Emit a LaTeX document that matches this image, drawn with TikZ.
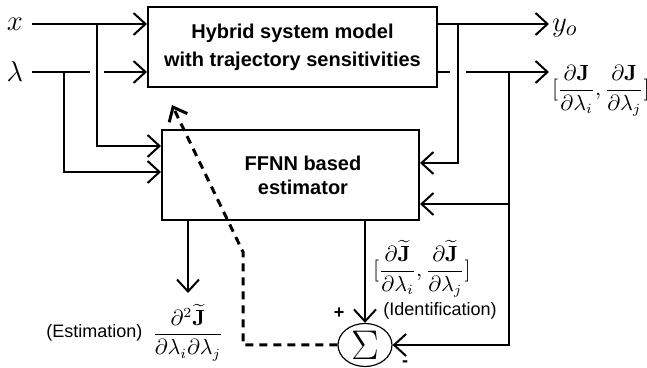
\documentclass[tikz,border=0pt]{standalone}
\usepackage{amsmath}
\usepackage{amssymb}
\usepackage[no-math]{fontspec}
\setmainfont{Liberation Sans}
\usetikzlibrary{arrows.meta,positioning,shapes.geometric}

\tikzset{
  block/.style={draw, line width=1pt, inner sep=0pt},
  blocktext/.style={font=\bfseries\fontsize{10}{14}\selectfont, align=center},
  invar/.style={font=\fontsize{15}{15}\selectfont, inner sep=4pt},
  sumnode/.style={ellipse, draw, line width=0.6pt, inner sep=0pt,
    minimum width=27pt, minimum height=21.5pt, font=\fontsize{22}{22}\selectfont},
  lbl/.style={font=\fontsize{9}{11}\selectfont},
  dlbl/.style={font=\fontsize{10.5}{12}\selectfont, inner sep=1pt},
  sig/.style={line width=1pt, -{Straight Barb[length=6pt,width=11pt]}},
  fb/.style={line width=1.5pt, dash pattern=on 4pt off 3pt,
    -{Straight Barb[length=6pt,width=10pt]}},
}

\begin{document}
\begin{tikzpicture}[x=0.5pt, y=-0.5pt, line width=1pt]
    \useasboundingbox (0,0) rectangle (647,368);

    % blocks
    \node[block, blocktext, minimum width=144.5pt, minimum height=40pt] (hsm) at (292.5,47)
      {Hybrid system model\\with trajectory sensitivities};
    \node[block, minimum width=128.5pt, minimum height=45pt] (ffnn) at (290.5,175) {};
    \node[blocktext, font=\bfseries\fontsize{10}{12}\selectfont] (ffnntxt) at (303,175)
      {FFNN based\\estimator};
    \node[sumnode] (sum) at (365,345) {$\Sigma$};

    % inputs
    \node[invar, anchor=east] (xin) at (32,24) {$x$};
    \node[invar, anchor=east] (lin) at (32,72) {$\lambda$};
    \coordinate (xb) at (97,24);
    \coordinate (lb) at (64,72);

    \draw[sig] (xin.east) -- (hsm.west |- xin);
    \draw[sig] (xb) |- ([yshift=14.5pt]ffnn.west);
    \draw (lin.east) -- ([xshift=-3.5pt]xb |- lin);
    \draw[sig] ([xshift=3.5pt]xb |- lin) -- (hsm.west |- lin);
    \draw[sig] (lb) |- ([yshift=1.5pt]ffnn.west);

    % outputs
    \node[invar, anchor=west, inner sep=1pt] (yo) at (549,28) {$y_o$};
    \node[dlbl, anchor=west] (dj) at (549,91)
      {$[\dfrac{\partial\mathbf{J}}{\partial\lambda_i},\dfrac{\partial\mathbf{J}}{\partial\lambda_j}]$};
    \coordinate (yb) at (458,24);
    \coordinate (jb) at (509,72);

    \draw[sig] (hsm.east |- xin) -- (yo.west |- xin);
    \draw[sig] (yb) |- ([yshift=6pt]ffnn.east);
    \draw (hsm.east |- lin) -- ([xshift=-4pt]yb |- lin);
    \draw[sig] ([xshift=4pt]yb |- lin) -- (dj.west |- lin);
    \draw[sig] (jb) |- (sum.east);
    \draw[sig] ([yshift=-14.5pt]ffnn.east -| jb) -- ([yshift=-14.5pt]ffnn.east);

    % estimator outputs
    \node[dlbl, anchor=north, inner xsep=1pt, inner ysep=5pt] (est) at (188,293)
      {$\dfrac{\partial^2\widetilde{\mathbf{J}}}{\partial\lambda_i\partial\lambda_j}$};
    \node[lbl, left=1pt of est, inner sep=2pt] (estlbl) {(Estimation)};
    \node[dlbl, anchor=west] (idj) at (370,269)
      {$[\dfrac{\partial\widetilde{\mathbf{J}}}{\partial\lambda_i},\dfrac{\partial\widetilde{\mathbf{J}}}{\partial\lambda_j}]$};
    \node[lbl] (idlbl) at (440,311) {(Identification)};

    \draw[sig] (ffnn.south -| est) -- (est.north);
    \draw[sig] (ffnn.south -| sum) -- (sum.north);

    % signs at the summing point
    \node[lbl, font=\bfseries\fontsize{9}{11}\selectfont] (plus) at (339,313) {+};
    \node[lbl, font=\bfseries\fontsize{9}{11}\selectfont] (minus) at (405,364) {-};

    % feedback
    \coordinate (dk) at (243,252);
    \coordinate (dtip) at (172,105);
    \draw[fb] (sum.west) -| (dk) -- (dtip);
\end{tikzpicture}
\end{document}
